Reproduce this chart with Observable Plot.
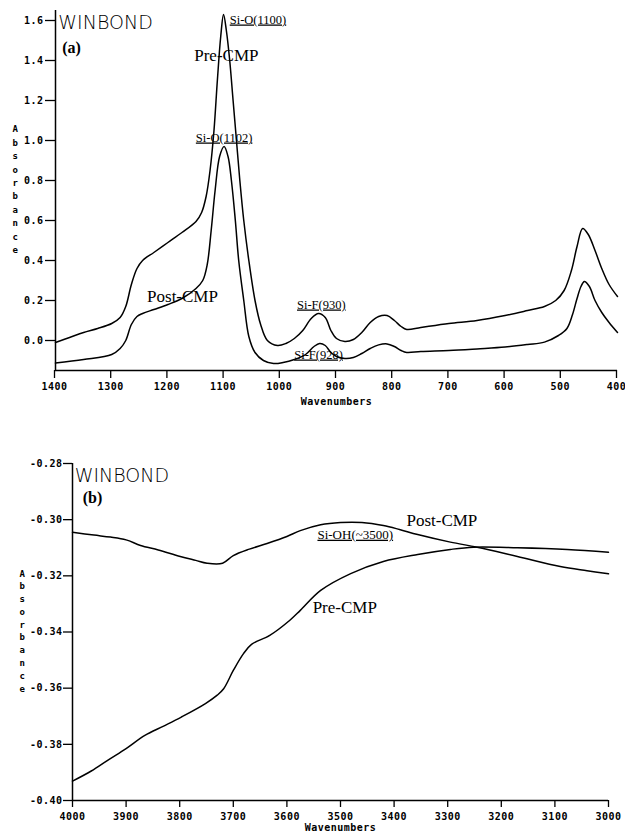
<!DOCTYPE html>
<html>
<head>
<meta charset="utf-8">
<script src="https://cdn.jsdelivr.net/npm/d3@7"></script>
<script src="https://cdn.jsdelivr.net/npm/@observablehq/plot@0.6"></script>
<style>
  html, body { margin: 0; padding: 0; background: white; }
  #wrap { position: relative; width: 625px; height: 832px; overflow: hidden; background: white; }
  #top { position: absolute; left: 0; top: 0; }
  #bottom { position: absolute; left: 0; top: 420px; }
  svg { display: block; }
  g[aria-label$="tick label"] text, g[aria-label$="axis label"] text { letter-spacing: 0.5px; }
</style>
</head>
<body>
<div id="wrap"><div id="top"></div><div id="bottom"></div></div>
<script>
// ---------- Panel (a): 1400–400 cm-1 ----------
const topXTicks = [1400, 1300, 1200, 1100, 1000, 900, 800, 700, 600, 500, 400];
const topYTicks = [0.0, 0.2, 0.4, 0.6, 0.8, 1.0, 1.2, 1.4, 1.6];

const topPreWave = [1400,1375,1350,1325,1300,1285,1275,1265,1255,1245,1225,1200,1175,1150,1140,1132,1125,1118,1112,1106,1101,1096,1090,1084,1078,1072,1065,1056,1045,1035,1023,1005,990,975,960,945,932,920,910,900,885,870,855,840,825,810,797,785,775,750,700,650,600,560,530,510,495,482,472,462,452,440,428,415,400];
const topPreAbs  = [-0.01,0.015,0.04,0.06,0.085,0.115,0.17,0.28,0.36,0.40,0.44,0.49,0.54,0.595,0.64,0.72,0.85,1.05,1.30,1.52,1.63,1.55,1.40,1.20,1.00,0.80,0.60,0.40,0.20,0.08,0.00,-0.025,-0.015,0.01,0.05,0.11,0.135,0.115,0.05,0.01,-0.005,0.005,0.04,0.09,0.12,0.125,0.10,0.07,0.055,0.065,0.085,0.10,0.125,0.15,0.17,0.20,0.25,0.35,0.47,0.56,0.53,0.45,0.36,0.28,0.22];

const topPostWave = [1400,1350,1300,1285,1275,1265,1255,1245,1225,1200,1175,1150,1138,1130,1123,1116,1108,1100,1093,1087,1080,1074,1065,1056,1045,1030,1012,995,975,955,940,930,920,910,900,885,870,855,840,825,810,797,785,775,750,700,650,600,560,530,505,490,480,472,465,459,450,440,428,415,400];
const topPostAbs  = [-0.113,-0.095,-0.07,-0.04,0.00,0.08,0.12,0.135,0.155,0.18,0.21,0.26,0.30,0.38,0.55,0.75,0.92,0.97,0.92,0.80,0.60,0.40,0.20,0.02,-0.06,-0.10,-0.115,-0.11,-0.095,-0.07,-0.03,-0.015,-0.025,-0.06,-0.08,-0.09,-0.085,-0.065,-0.04,-0.022,-0.017,-0.03,-0.05,-0.06,-0.055,-0.05,-0.042,-0.033,-0.02,-0.008,0.025,0.06,0.13,0.21,0.27,0.295,0.27,0.20,0.14,0.09,0.04];

// labels anchored at their left edge
const topLabelsStart = [
  {text: "Si-O(1100)", w: 1090, a: 1.605, size: 12.5}
];
// labels anchored at their centre
const topLabelsMiddle = [
  {text: "Pre-CMP",    w: 1096, a: 1.425, size: 17},
  {text: "Si-O(1102)", w: 1100, a: 1.015, size: 12.5},
  {text: "Post-CMP",   w: 1174, a: 0.22,  size: 17},
  {text: "Si-F(930)",  w: 927,  a: 0.18,  size: 12.5},
  {text: "Si-F(928)",  w: 932,  a: -0.07, size: 12.5}
];

// ---------- Panel (b): 4000–3000 cm-1 ----------
const botXTicks = [4000, 3900, 3800, 3700, 3600, 3500, 3400, 3300, 3200, 3100, 3000];
const botYTicks = [-0.40, -0.38, -0.36, -0.34, -0.32, -0.30, -0.28];

const botPostWave = [4000,3960,3929,3900,3873,3840,3799,3770,3749,3720,3700,3670,3637,3600,3575,3537,3500,3460,3420,3390,3356,3295,3245,3170,3090,3040,3000];
const botPostAbs  = [-0.3045,-0.3055,-0.3062,-0.3072,-0.3092,-0.3108,-0.3131,-0.3145,-0.3155,-0.3155,-0.3128,-0.3105,-0.3085,-0.3060,-0.3039,-0.3018,-0.3010,-0.3010,-0.3021,-0.3035,-0.3053,-0.3080,-0.3098,-0.3131,-0.3167,-0.3182,-0.3193];

const botPreWave = [4000,3965,3933,3900,3865,3830,3797,3752,3730,3718,3700,3681,3666,3632,3595,3575,3537,3481,3420,3356,3295,3252,3170,3077,3000];
const botPreAbs  = [-0.3931,-0.3895,-0.3855,-0.3815,-0.3768,-0.3735,-0.3703,-0.3655,-0.3625,-0.3602,-0.3537,-0.3477,-0.3444,-0.3412,-0.3359,-0.3323,-0.3252,-0.3192,-0.3149,-0.3124,-0.3106,-0.3098,-0.3100,-0.3106,-0.3116];

const botLabels = [
  {text: "Post-CMP",     w: 3377, a: -0.3003, size: 17},
  {text: "Si-OH(~3500)", w: 3543, a: -0.3053, size: 13},
  {text: "Pre-CMP",      w: 3552, a: -0.3313, size: 17}
];

const yLetters = "A\nb\ns\no\nr\nb\na\nn\nc\ne";

const toRows = (ws, as) => ws.map((w, i) => ({w, a: as[i]}));

const baseStyle = {fontFamily: "DejaVu Sans Mono", fontSize: "10px", fontWeight: "bold", background: "white", color: "black", overflow: "visible"};

const lineOpts = {x: "w", y: "a", stroke: "black", strokeWidth: 1.5, curve: "catmull-rom"};
const serif = {x: "w", y: "a", text: "text", fontSize: "size", fontFamily: "Liberation Serif", fontWeight: "normal", fill: "black"};

const topPlot = Plot.plot({
  width: 625, height: 410,
  marginTop: 10, marginBottom: 40, marginLeft: 55, marginRight: 8,
  x: {domain: [1400, 400]},
  y: {domain: [-0.15, 1.65]},
  style: baseStyle,
  marks: [
    Plot.ruleX([1400], {stroke: "black", strokeWidth: 1.5}),
    Plot.ruleY([-0.15], {stroke: "black", strokeWidth: 1.5}),
    Plot.axisY({ticks: topYTicks, tickSize: 10, tickPadding: 2, tickFormat: d => d.toFixed(1), label: null, strokeWidth: 1.3}),
    Plot.axisX({ticks: topXTicks, tickSize: 8, tickPadding: 4, dx: -1, tickFormat: d => String(d), label: "Wavenumbers", labelAnchor: "center", labelArrow: "none", labelOffset: 34, strokeWidth: 1.3}),
    Plot.text([yLetters], {frameAnchor: "left", dx: -43, dy: -2, lineHeight: 1.49, fontFamily: "DejaVu Sans Mono", fontSize: 9, fontWeight: "bold"}),
    Plot.line(toRows(topPreWave, topPreAbs), lineOpts),
    Plot.line(toRows(topPostWave, topPostAbs), lineOpts),
    Plot.text(["WINBOND"], {x: 1395, y: 1.59, textAnchor: "start", fontFamily: "DejaVu Sans", fontWeight: 200, fontSize: 19}),
    Plot.text(["(a)"], {x: 1388, y: 1.465, textAnchor: "start", fontFamily: "Liberation Serif", fontWeight: "bold", fontSize: 16}),
    Plot.text(topLabelsStart, {...serif, textAnchor: "start"}),
    Plot.text(topLabelsMiddle, {...serif, textAnchor: "middle"})
  ]
});

const botPlot = Plot.plot({
  width: 625, height: 412,
  marginTop: 43, marginBottom: 32, marginLeft: 72, marginRight: 17,
  x: {domain: [4000, 3000]},
  y: {domain: [-0.40, -0.28]},
  style: baseStyle,
  marks: [
    Plot.ruleX([4000], {stroke: "black", strokeWidth: 1.5}),
    Plot.ruleY([-0.40], {stroke: "black", strokeWidth: 1.5}),
    Plot.axisY({ticks: botYTicks, tickSize: 9, tickPadding: 1, tickFormat: d => d.toFixed(2), label: null, strokeWidth: 1.3}),
    Plot.axisX({ticks: botXTicks, tickSize: 7, tickPadding: 5, tickFormat: d => String(d), label: "Wavenumbers", labelAnchor: "center", labelArrow: "none", labelOffset: 30, strokeWidth: 1.3}),
    Plot.text([yLetters], {frameAnchor: "left", dx: -53, dy: -2, lineHeight: 1.42, fontFamily: "DejaVu Sans Mono", fontSize: 9, fontWeight: "bold"}),
    Plot.line(toRows(botPostWave, botPostAbs), lineOpts),
    Plot.line(toRows(botPreWave, botPreAbs), lineOpts),
    Plot.text(["WINBOND"], {x: 3996, y: -0.2843, textAnchor: "start", fontFamily: "DejaVu Sans", fontWeight: 200, fontSize: 19}),
    Plot.text(["(b)"], {x: 3981, y: -0.2921, textAnchor: "start", fontFamily: "Liberation Serif", fontWeight: "bold", fontSize: 16}),
    Plot.text(botLabels, {...serif, textAnchor: "start"})
  ]
});

for (const svg of [topPlot, botPlot]) {
  d3.select(svg).selectAll("text")
    .filter(function() { return /^Si-/.test(this.textContent); })
    .style("text-decoration", "underline");
}

document.getElementById("top").appendChild(topPlot);
document.getElementById("bottom").appendChild(botPlot);
</script>
</body>
</html>
